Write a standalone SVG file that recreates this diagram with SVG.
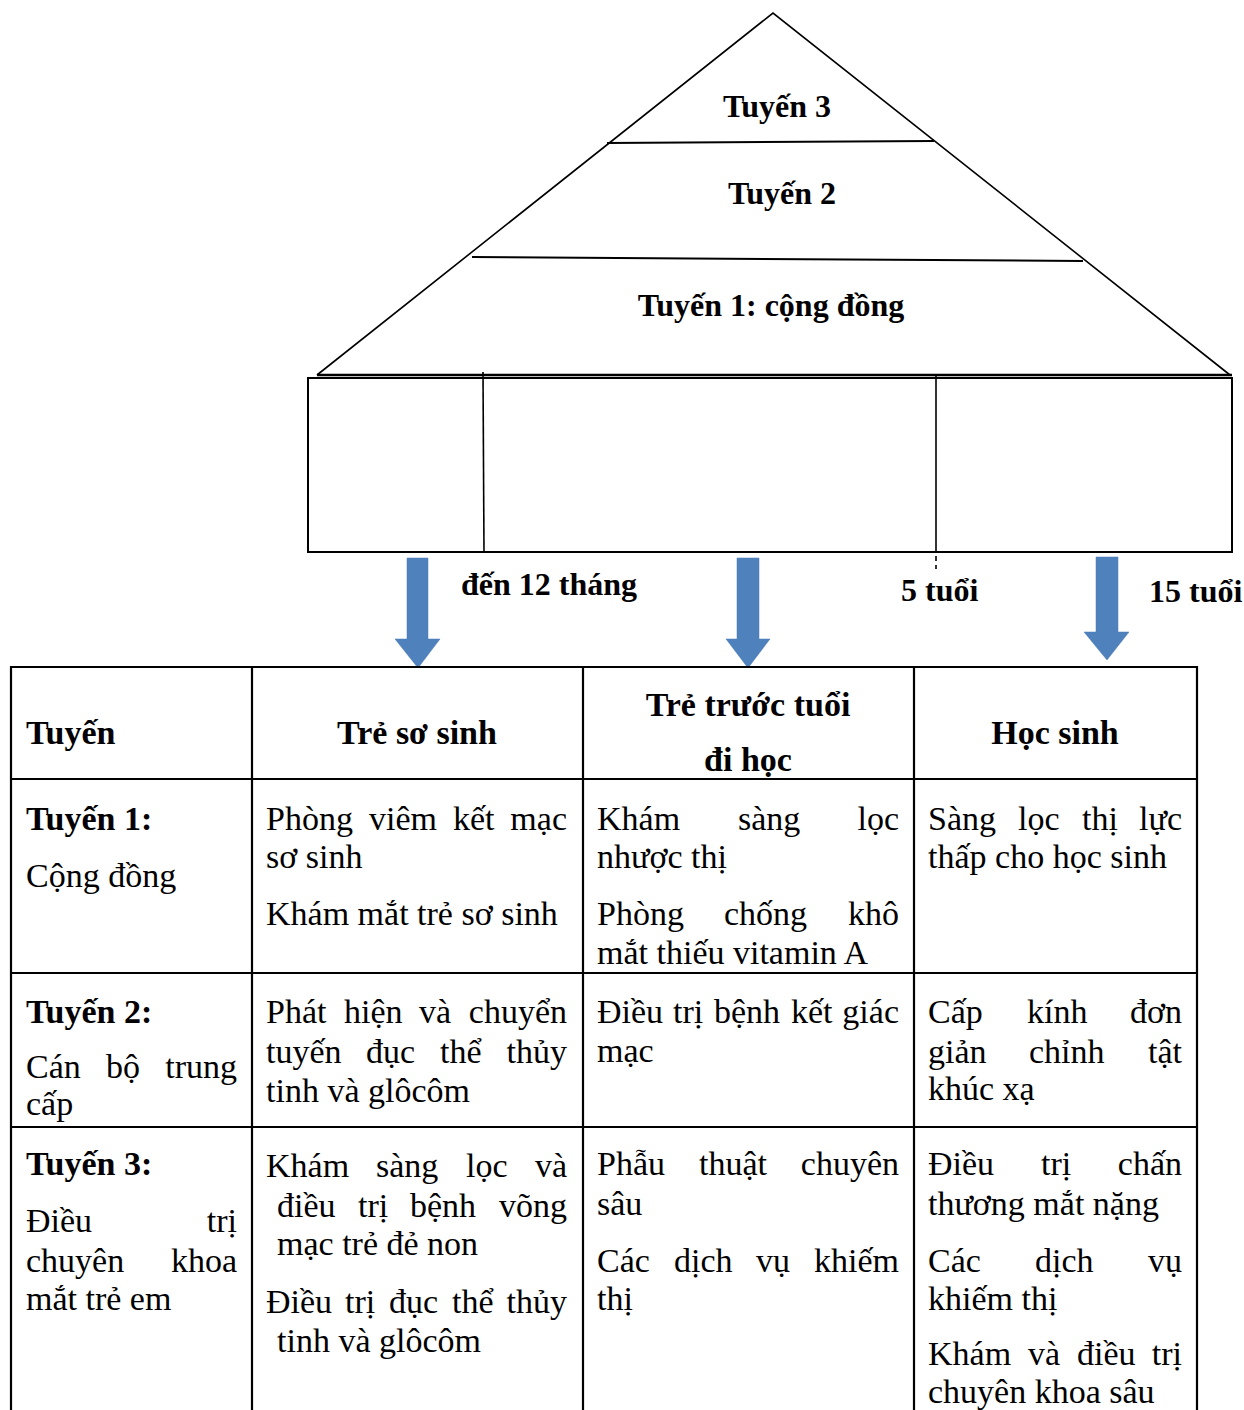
<svg xmlns="http://www.w3.org/2000/svg" width="1244" height="1410" viewBox="0 0 1244 1410">
<style>
text{font-family:"Liberation Serif","Times New Roman",serif;font-size:34px;fill:#000}
.b{font-weight:bold}
.p{font-size:32px;font-weight:bold}
.c{text-anchor:middle}
.e{text-anchor:end}
.ln{stroke:#000;fill:none}
.tl{stroke:#000;stroke-width:2.2;fill:none}
.ar{fill:#4F81BD;stroke:#4A7AB5;stroke-width:0.5}
</style>
<rect width="1244" height="1410" fill="#fff"/>
<g id="pyramid">
<polyline class="ln" stroke-width="1.6" points="317,375 773,13 1230,375"/>
<line class="ln" stroke-width="2" x1="607" y1="143" x2="934" y2="141"/>
<line class="ln" stroke-width="2" x1="472" y1="257" x2="1083" y2="261"/>
<line class="ln" stroke-width="2.4" x1="317" y1="375" x2="1232" y2="375"/>
<text class="p c" x="777" y="117">Tuyến 3</text>
<text class="p c" x="782" y="204">Tuyến 2</text>
<text class="p c" x="771" y="316">Tuyến 1: cộng đồng</text>
</g>
<g id="age-bar">
<rect class="ln" stroke-width="2" x="308" y="378" width="924" height="174"/>
<line class="ln" stroke-width="1.6" x1="483" y1="372" x2="484" y2="553"/>
<line class="ln" stroke-width="1.6" x1="936" y1="375" x2="936" y2="553"/>
<line class="ln" stroke-width="1.6" stroke-dasharray="5,4" x1="936" y1="556" x2="936" y2="569"/>
<text class="p" x="461" y="595">đến 12 tháng</text>
<text class="p" x="901" y="601">5 tuổi</text>
<text class="p" x="1149" y="602">15 tuổi</text>
</g>
<g id="connectors">
<polygon class="ar" points="407,558 428,558 428,639 440,639 418,668 395,639 407,639"/>
<polygon class="ar" points="737,558 759,558 759,639 770,639 748,668 726,639 737,639"/>
<polygon class="ar" points="1096,557 1118,557 1118,632 1129,632 1107,660 1084,632 1096,632"/>
</g>
<g id="table-grid">
<line class="tl" x1="10" y1="667" x2="1198" y2="667"/>
<line class="tl" x1="10" y1="779" x2="1198" y2="779"/>
<line class="tl" x1="10" y1="973" x2="1198" y2="973"/>
<line class="tl" x1="10" y1="1127" x2="1198" y2="1127"/>
<line class="tl" x1="11" y1="666" x2="11" y2="1410"/>
<line class="tl" x1="252" y1="666" x2="252" y2="1410"/>
<line class="tl" x1="583" y1="666" x2="583" y2="1410"/>
<line class="tl" x1="914" y1="666" x2="914" y2="1410"/>
<line class="tl" x1="1197" y1="666" x2="1197" y2="1410"/>
</g>
<g id="header">
<text class="b" x="26" y="744">Tuyến</text>
<text class="b c" x="417" y="744">Trẻ sơ sinh</text>
<text class="b c" x="748" y="716">Trẻ trước tuổi</text>
<text class="b c" x="748" y="771">đi học</text>
<text class="b c" x="1055" y="744">Học sinh</text>
</g>
<g id="row1">
<text class="b" x="26" y="830">Tuyến 1:</text>
<text x="26" y="887">Cộng đồng</text>
<text y="830"><tspan x="266">Phòng</tspan><tspan x="369">viêm</tspan><tspan x="453">kết</tspan><tspan x="567" text-anchor="end">mạc</tspan></text>
<text x="266" y="868">sơ sinh</text>
<text x="266" y="925">Khám mắt trẻ sơ sinh</text>
<text y="830"><tspan x="597">Khám</tspan><tspan x="738">sàng</tspan><tspan x="899" text-anchor="end">lọc</tspan></text>
<text x="597" y="868">nhược thị</text>
<text y="925"><tspan x="597">Phòng</tspan><tspan x="724">chống</tspan><tspan x="899" text-anchor="end">khô</tspan></text>
<text x="597" y="964">mắt thiếu vitamin A</text>
<text y="830"><tspan x="928">Sàng</tspan><tspan x="1018">lọc</tspan><tspan x="1082">thị</tspan><tspan x="1182" text-anchor="end">lực</tspan></text>
<text x="928" y="868">thấp cho học sinh</text>
</g>
<g id="row2">
<text class="b" x="26" y="1023">Tuyến 2:</text>
<text y="1078"><tspan x="26">Cán</tspan><tspan x="106">bộ</tspan><tspan x="237" text-anchor="end">trung</tspan></text>
<text x="26" y="1115">cấp</text>
<text y="1023"><tspan x="266">Phát</tspan><tspan x="344">hiện</tspan><tspan x="419">và</tspan><tspan x="567" text-anchor="end">chuyển</tspan></text>
<text y="1063"><tspan x="266">tuyến</tspan><tspan x="366">đục</tspan><tspan x="440">thể</tspan><tspan x="567" text-anchor="end">thủy</tspan></text>
<text x="266" y="1102">tinh và glôcôm</text>
<text y="1023"><tspan x="597">Điều</tspan><tspan x="673">trị</tspan><tspan x="714">bệnh</tspan><tspan x="791">kết</tspan><tspan x="899" text-anchor="end">giác</tspan></text>
<text x="597" y="1062">mạc</text>
<text y="1023"><tspan x="928">Cấp</tspan><tspan x="1027">kính</tspan><tspan x="1182" text-anchor="end">đơn</tspan></text>
<text y="1063"><tspan x="928">giản</tspan><tspan x="1029">chỉnh</tspan><tspan x="1182" text-anchor="end">tật</tspan></text>
<text x="928" y="1100">khúc xạ</text>
</g>
<g id="row3">
<text class="b" x="26" y="1175">Tuyến 3:</text>
<text y="1232"><tspan x="26">Điều</tspan><tspan x="237" text-anchor="end">trị</tspan></text>
<text y="1272"><tspan x="26">chuyên</tspan><tspan x="237" text-anchor="end">khoa</tspan></text>
<text x="26" y="1310">mắt trẻ em</text>
<text y="1177"><tspan x="266">Khám</tspan><tspan x="376">sàng</tspan><tspan x="466">lọc</tspan><tspan x="567" text-anchor="end">và</tspan></text>
<text y="1217"><tspan x="277">điều</tspan><tspan x="358">trị</tspan><tspan x="410">bệnh</tspan><tspan x="567" text-anchor="end">võng</tspan></text>
<text x="277" y="1255">mạc trẻ đẻ non</text>
<text y="1313"><tspan x="266">Điều</tspan><tspan x="345">trị</tspan><tspan x="389">đục</tspan><tspan x="452">thể</tspan><tspan x="567" text-anchor="end">thủy</tspan></text>
<text x="277" y="1352">tinh và glôcôm</text>
<text y="1175"><tspan x="597">Phẫu</tspan><tspan x="699">thuật</tspan><tspan x="899" text-anchor="end">chuyên</tspan></text>
<text x="597" y="1215">sâu</text>
<text y="1272"><tspan x="597">Các</tspan><tspan x="674">dịch</tspan><tspan x="756">vụ</tspan><tspan x="899" text-anchor="end">khiếm</tspan></text>
<text x="597" y="1310">thị</text>
<text y="1175"><tspan x="928">Điều</tspan><tspan x="1041">trị</tspan><tspan x="1182" text-anchor="end">chấn</tspan></text>
<text x="928" y="1215">thương mắt nặng</text>
<text y="1272"><tspan x="928">Các</tspan><tspan x="1035">dịch</tspan><tspan x="1182" text-anchor="end">vụ</tspan></text>
<text x="928" y="1310">khiếm thị</text>
<text y="1365"><tspan x="928">Khám</tspan><tspan x="1028">và</tspan><tspan x="1077">điều</tspan><tspan x="1182" text-anchor="end">trị</tspan></text>
<text x="928" y="1403">chuyên khoa sâu</text>
</g>
</svg>
